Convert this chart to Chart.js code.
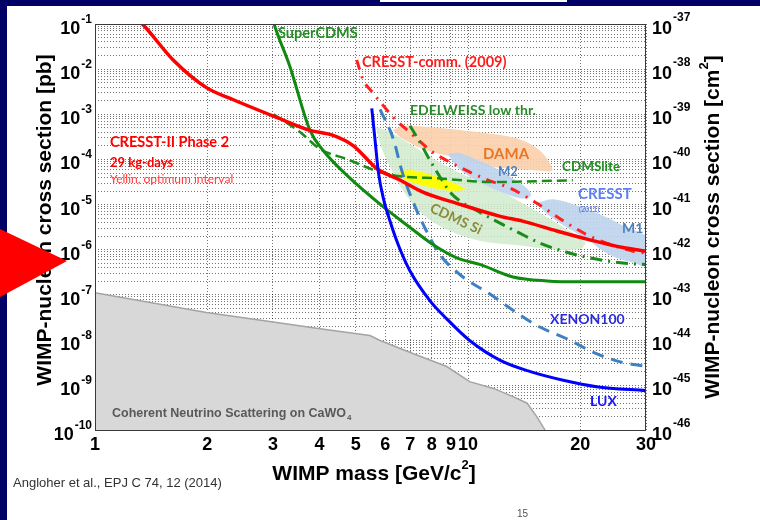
<!DOCTYPE html>
<html lang="en">
<head>
<meta charset="utf-8">
<title>WIMP-nucleon cross section limits</title>
<script src="https://cdn.jsdelivr.net/npm/chart.js@4.4.1/dist/chart.umd.min.js"></script>
<style>
  html, body { margin: 0; padding: 0; background: #ffffff; }
  #slide { position: relative; width: 760px; height: 520px; overflow: hidden; background: #ffffff; }
  #chart { position: absolute; left: 0; top: 0; }
  #frame { position: absolute; left: 0; top: 0; pointer-events: none; }
</style>
</head>
<body>
<div id="slide">
  <canvas id="chart" width="760" height="520"></canvas>
  <svg id="frame" width="760" height="520" viewBox="0 0 760 520">
    <rect x="0" y="0" width="760" height="6" fill="#000066"/>
    <rect x="380" y="0" width="187" height="2" fill="#ffffff"/>
    <rect x="0" y="0" width="7" height="520" fill="#000066"/>
    <polygon points="0,229 67,261 0,297" fill="#ff0000"/>
  </svg>
</div>
<script>
// WIMP mass axis ticks [GeV/c^2]
const massTicks = [1, 2, 3, 4, 5, 6, 7, 8, 9, 10, 20, 30];
// Decade exponents of the two cross-section axes
const pbExponents = [-10, -9, -8, -7, -6, -5, -4, -3, -2, -1];
const cm2Exponents = [-46, -45, -44, -43, -42, -41, -40, -39, -38, -37];

// CRESST-II Phase 2, 29 kg-days
const cresstIIMass  = [1.28, 1.34, 1.62, 1.99, 2.35, 3.07, 3.77, 4.35, 4.93, 5.46, 5.69, 6.57, 7.57, 9.33, 12.2, 14.0, 17.3, 21.2, 26.0, 30.0];
const cresstIISigma = [1.4e-1, 1.0e-1, 1.6e-2, 3.9e-3, 2.1e-3, 8.5e-4, 4.4e-4, 3.4e-4, 2.0e-4, 8.7e-5, 6.3e-5, 3.5e-5, 1.9e-5, 1.07e-5, 5.5e-6, 4.3e-6, 2.6e-6, 1.66e-6, 1.12e-6, 9.3e-7];

// SuperCDMS
const superCdmsMass  = [2.98, 3.02, 3.33, 3.77, 4.09, 4.73, 5.93, 6.85, 8.07, 9.33, 10.8, 13.2, 16.3, 20.0, 30.0];
const superCdmsSigma = [1.5e-1, 1.0e-1, 1.15e-2, 4.4e-4, 1.58e-4, 4.5e-5, 8.9e-6, 3.55e-6, 1.29e-6, 6.6e-7, 4.7e-7, 2.5e-7, 2.04e-7, 1.95e-7, 1.95e-7];

// CDMSlite
const cdmsLiteMass  = [3.01, 3.55, 4.01, 4.73, 5.81, 6.57, 8.41, 11.5, 14.0, 19.1];
const cdmsLiteSigma = [1.0e-3, 4.0e-4, 1.7e-4, 1.02e-4, 5.25e-5, 4.27e-5, 3.8e-5, 3.16e-5, 3.24e-5, 3.47e-5];

// EDELWEISS low threshold
const edelweissMass  = [6.99, 7.43, 7.91, 8.41, 8.95, 9.52, 10.3, 11.9, 13.8, 15.6, 18.0, 21.2, 26.0, 30.0];
const edelweissSigma = [5.6e-4, 2.4e-4, 9.5e-5, 4.1e-5, 1.9e-5, 1.2e-5, 8.3e-6, 4.3e-6, 2.3e-6, 1.4e-6, 9.3e-7, 6.6e-7, 5.1e-7, 4.7e-7];

// CRESST commissioning run (2009)
const cresstCommMass  = [5.03, 5.23, 5.52, 5.92, 6.37, 6.91, 7.43, 8.01, 8.77, 9.58, 11.3, 13.0, 15.3, 18.4, 21.2, 23.5, 27.7, 30.0];
const cresstCommSigma = [1.6e-2, 5.9e-3, 3.2e-3, 1.58e-3, 7.8e-4, 4.3e-4, 2.5e-4, 1.48e-4, 9.5e-5, 6.5e-5, 3.5e-5, 2.3e-5, 1.07e-5, 3.9e-6, 2.0e-6, 1.41e-6, 9.3e-7, 8.5e-7];

// XENON100
const xenonMass  = [5.81, 6.31, 6.64, 7.06, 7.67, 8.41, 9.52, 11.5, 13.2, 15.3, 18.4, 22.1, 25.6, 30.0];
const xenonSigma = [1.29e-3, 2.8e-4, 5.75e-5, 1.38e-5, 3.0e-6, 7.8e-7, 2.8e-7, 1.02e-7, 4.6e-8, 2.1e-8, 1.07e-8, 5.0e-9, 3.3e-9, 2.6e-9];

// LUX
const luxMass  = [5.52, 5.63, 5.75, 5.93, 6.18, 6.50, 6.99, 7.91, 8.77, 10.1, 12.2, 14.7, 18.0, 22.1, 30.0];
const luxSigma = [1.35e-3, 2.82e-4, 5.25e-5, 1.38e-5, 4.27e-6, 1.29e-6, 3.39e-7, 7.41e-8, 2.95e-8, 9.77e-9, 3.55e-9, 2.0e-9, 1.29e-9, 9.3e-10, 7.6e-10];

// Coherent neutrino scattering on CaWO4
const neutrinoMass  = [1.0, 1.99, 3.07, 4.01, 5.46, 5.81, 7.14, 8.77, 10.1, 11.7, 13.2, 14.4, 15.3, 16.1, 16.5];
const neutrinoSigma = [1.12e-7, 4.1e-8, 2.45e-8, 1.78e-8, 1.26e-8, 9.8e-9, 5.0e-9, 2.6e-9, 1.2e-9, 8.5e-10, 5.6e-10, 4.0e-10, 2.0e-10, 1.0e-10, 8.0e-11];

// DAMA allowed region
const damaMass  = [6.29, 6.78, 7.91, 9.52, 11.5, 13.4, 14.7, 15.8, 16.6, 16.8, 15.6, 13.4, 11.5, 10.1, 8.84, 7.57, 6.57, 6.29];
const damaSigma = [4.5e-4, 5.5e-4, 5.2e-4, 4.5e-4, 3.7e-4, 3.0e-4, 2.2e-4, 1.4e-4, 8.0e-5, 5.65e-5, 5.65e-5, 6.2e-5, 6.9e-5, 9.4e-5, 1.21e-4, 1.71e-4, 3.15e-4, 4.5e-4];

// CRESST (2011) M2 region
const m2Mass  = [8.84, 9.40, 10.4, 11.8, 13.1, 14.2, 14.75, 14.4, 13.2, 11.5, 10.1, 9.23, 8.84];
const m2Sigma = [1.33e-4, 1.40e-4, 1.04e-4, 6.57e-5, 3.96e-5, 2.51e-5, 1.68e-5, 1.37e-5, 1.52e-5, 2.39e-5, 4.17e-5, 7.64e-5, 1.33e-4];

// CRESST (2011) M1 region
const m1Mass  = [15.4, 17.1, 21.2, 25.6, 32.0, 32.0, 27.2, 24.0, 20.6, 17.65, 16.1, 15.4];
const m1Sigma = [1.12e-5, 1.30e-5, 7.48e-6, 3.68e-6, 1.38e-6, 4.0e-7, 5.4e-7, 7.7e-7, 1.81e-6, 3.87e-6, 6.76e-6, 1.12e-5];

// CDMS Si allowed region
const cdmsSiMass  = [5.67, 6.18, 6.99, 7.91, 9.23, 10.8, 13.0, 15.6, 18.2, 20.6, 20.0, 16.6, 13.4, 10.8, 8.95, 7.67, 6.78, 6.18, 5.81, 5.67];
const cdmsSiSigma = [5.21e-4, 4.05e-4, 2.21e-4, 1.15e-4, 5.65e-5, 3.24e-5, 1.52e-5, 6.43e-6, 3.01e-6, 1.48e-6, 1.04e-6, 1.04e-6, 1.27e-6, 1.56e-6, 2.59e-6, 5.52e-6, 1.77e-5, 6.9e-5, 2.21e-4, 5.21e-4];

// Yellow best-fit region inside CDMS Si
const yellowMass  = [6.57, 7.21, 8.41, 9.34, 9.82, 8.78, 7.76, 6.86, 6.61, 6.57];
const yellowSigma = [5.65e-5, 5.65e-5, 3.96e-5, 2.78e-5, 2.16e-5, 2.06e-5, 2.51e-5, 3.4e-5, 4.38e-5, 5.65e-5];

const AXIS_FONT = '"Liberation Sans", Arial, Helvetica, sans-serif';
const NOTE_FONT = 'Lato, "Open Sans", "Noto Sans", sans-serif';

const toPoints = (m, s) => m.map((x, i) => ({ x, y: s[i] }));

function curve(m, s, color, width, dash) {
  return {
    data: toPoints(m, s), showLine: true, fill: false,
    borderColor: color, borderWidth: width, borderDash: dash || [],
    borderCapStyle: 'butt', pointRadius: 0, cubicInterpolationMode: 'monotone'
  };
}
function region(m, s, color) {
  return {
    data: toPoints(m, s), showLine: true, fill: 'shape',
    backgroundColor: color, borderColor: 'rgba(0,0,0,0)', borderWidth: 0,
    pointRadius: 0, tension: 0.35
  };
}

// grid positions: 1..9 x 10^n on the pb axis
const pbGrid = [];
pbExponents.forEach((e, i) => {
  if (i === pbExponents.length - 1) { pbGrid.push(Math.pow(10, e)); return; }
  for (let k = 1; k <= 9; k++) pbGrid.push(Number((k * Math.pow(10, e)).toPrecision(2)));
});

const datasets = [
  curve(luxMass, luxSigma, '#0000ff', 3),
  curve(cresstIIMass, cresstIISigma, '#ff0000', 3.5),
  curve(superCdmsMass, superCdmsSigma, '#118a11', 3),
  curve(cdmsLiteMass, cdmsLiteSigma, '#1a8c1a', 2.5, [10, 5]),
  curve(edelweissMass, edelweissSigma, '#1a8c1a', 3, [12, 6, 2, 6]),
  curve(cresstCommMass, cresstCommSigma, '#ff1f1f', 3, [10, 7, 2, 7]),
  curve(xenonMass, xenonSigma, '#3d80c4', 3, [12, 8]),
  region(yellowMass, yellowSigma, '#ffff00'),
  region(m2Mass, m2Sigma, 'rgba(190,212,238,0.92)'),
  region(m1Mass, m1Sigma, 'rgba(190,212,238,0.92)'),
  region(damaMass, damaSigma, 'rgba(250,208,172,0.92)'),
  region(cdmsSiMass, cdmsSiSigma, 'rgba(208,234,204,0.85)'),
  {
    data: toPoints(neutrinoMass, neutrinoSigma), showLine: true, fill: 'start',
    backgroundColor: '#d8d8d8', borderColor: '#a4a4a4', borderWidth: 1.5,
    pointRadius: 0, tension: 0
  }
];

function powerLabel(ctx, exp, x, y, side) {
  const base = '10', sup = String(exp);
  ctx.font = 'bold 18px ' + AXIS_FONT;
  const bw = ctx.measureText(base).width;
  ctx.font = 'bold 12px ' + AXIS_FONT;
  const sw = ctx.measureText(sup).width;
  let bx, sx, supY;
  if (side === 'left') { sx = x - sw; bx = sx - 1 - bw; supY = y - 1; }
  else { bx = x; sx = x + bw + 1; supY = y - 3; }
  ctx.textAlign = 'left';
  ctx.textBaseline = 'alphabetic';
  ctx.fillStyle = '#000';
  ctx.font = 'bold 18px ' + AXIS_FONT;
  ctx.fillText(base, bx, y + 10);
  ctx.font = 'bold 12px ' + AXIS_FONT;
  ctx.fillText(sup, sx, supY);
}

function note(ctx, text, x, y, size, color, weight) {
  ctx.font = (weight || 'bold') + ' ' + size + 'px ' + NOTE_FONT;
  ctx.fillStyle = color;
  ctx.textAlign = 'left';
  ctx.textBaseline = 'middle';
  ctx.fillText(text, x, y);
}

// title with a raised "2" before the closing bracket
function titleWithSquare(ctx, head, tail, size) {
  ctx.font = 'bold ' + size + 'px ' + AXIS_FONT;
  const hw = ctx.measureText(head).width;
  const tw = ctx.measureText(tail).width;
  ctx.font = 'bold ' + Math.round(size * 0.62) + 'px ' + AXIS_FONT;
  const sw = ctx.measureText('2').width;
  const total = hw + sw + tw;
  let x = -total / 2;
  ctx.textAlign = 'left';
  ctx.textBaseline = 'alphabetic';
  ctx.font = 'bold ' + size + 'px ' + AXIS_FONT;
  ctx.fillText(head, x, 0);
  x += hw;
  ctx.font = 'bold ' + Math.round(size * 0.62) + 'px ' + AXIS_FONT;
  ctx.fillText('2', x, -size * 0.52);
  x += sw;
  ctx.font = 'bold ' + size + 'px ' + AXIS_FONT;
  ctx.fillText(tail, x, 0);
}

const decor = {
  id: 'decor',
  afterDraw(chart) {
    const { ctx, chartArea: a, scales } = chart;
    ctx.save();

    // axes box
    ctx.strokeStyle = '#3a3a3a';
    ctx.lineWidth = 1;
    ctx.setLineDash([]);
    ctx.strokeRect(Math.round(a.left) + 0.5, Math.round(a.top) + 0.5,
                   Math.round(a.right - a.left) - 1, Math.round(a.bottom - a.top));

    // decade labels on both cross-section axes
    scales.y.ticks.forEach(t => {
      const e = Math.log10(t.value);
      if (Math.abs(e - Math.round(e)) > 1e-6) return;
      powerLabel(ctx, Math.round(e), 92, scales.y.getPixelForValue(t.value), 'left');
    });
    scales.y2.ticks.forEach(t => {
      const e = Math.round(Math.log10(t.value));
      powerLabel(ctx, e, 652, scales.y2.getPixelForValue(t.value), 'right');
    });

    // axis titles
    ctx.fillStyle = '#000';
    ctx.save();
    ctx.translate(374, 480);
    titleWithSquare(ctx, 'WIMP mass [GeV/c', ']', 21);
    ctx.restore();

    ctx.save();
    ctx.translate(51, 220);
    ctx.rotate(-Math.PI / 2);
    ctx.font = 'bold 21px ' + AXIS_FONT;
    ctx.textAlign = 'center';
    ctx.textBaseline = 'alphabetic';
    ctx.fillText('WIMP-nucleon cross section [pb]', 0, 0);
    ctx.restore();

    ctx.save();
    ctx.translate(719, 227);
    ctx.rotate(-Math.PI / 2);
    titleWithSquare(ctx, 'WIMP-nucleon cross section [cm', ']', 21);
    ctx.restore();

    // curve and region labels
    note(ctx, 'SuperCDMS', 278, 33, 14.5, '#1f8f1f');
    note(ctx, 'CRESST-comm. (2009)', 362, 62, 14.5, '#ff1a1a');
    note(ctx, 'EDELWEISS low thr.', 410, 110, 14, '#2a8a2a');
    note(ctx, 'CRESST-II Phase 2', 110, 142, 14.5, '#ff0000');
    note(ctx, '29 kg-days', 110, 163, 13, '#ff0000');
    note(ctx, 'Yellin, optimum interval', 110, 179, 12, '#ff3b3b', 'normal');
    note(ctx, 'DAMA', 483, 154, 15, '#e8762a');
    note(ctx, 'M2', 498, 172, 13, '#4f81bd');
    note(ctx, 'CDMSlite', 562, 167, 13.5, '#1f8f1f');
    note(ctx, 'CRESST', 578, 194, 15, '#5d7ff0');
    note(ctx, '(2011)', 579, 210, 7, '#5d7ff0');
    note(ctx, 'M1', 622, 228, 14, '#4f81bd');
    note(ctx, 'XENON100', 550, 319, 14, '#2b2be0');
    note(ctx, 'LUX', 590, 401, 14, '#1515ff');

    ctx.save();
    ctx.translate(456, 219);
    ctx.rotate(25 * Math.PI / 180);
    ctx.font = 'bold 14px ' + NOTE_FONT;
    ctx.fillStyle = '#8c8c3c';
    ctx.textAlign = 'center';
    ctx.textBaseline = 'middle';
    ctx.fillText('CDMS Si', 0, 0);
    ctx.restore();

    // neutrino floor caption with subscript
    ctx.font = 'bold 12.5px ' + AXIS_FONT;
    ctx.fillStyle = '#595959';
    ctx.textAlign = 'left';
    ctx.textBaseline = 'alphabetic';
    const cap = 'Coherent Neutrino Scattering on CaWO';
    ctx.fillText(cap, 112, 417);
    const cw = ctx.measureText(cap).width;
    ctx.font = 'bold 8px ' + AXIS_FONT;
    ctx.fillText('4', 112 + cw + 1, 420);

    // reference and page number
    ctx.font = '13px ' + AXIS_FONT;
    ctx.fillStyle = '#333';
    ctx.fillText('Angloher et al., EPJ C 74, 12 (2014)', 13, 487);
    ctx.font = '10px ' + AXIS_FONT;
    ctx.fillStyle = '#555';
    ctx.fillText('15', 517, 517);

    ctx.restore();
  }
};

const gridStyle = { color: 'rgba(0,0,0,0.55)', lineWidth: 1, drawTicks: false };

new Chart(document.getElementById('chart'), {
  type: 'scatter',
  data: { datasets },
  options: {
    responsive: false,
    animation: false,
    devicePixelRatio: 1,
    layout: { padding: { left: 95, right: 114, top: 24, bottom: 60 } },
    plugins: { legend: { display: false }, tooltip: { enabled: false } },
    elements: { point: { radius: 0 } },
    scales: {
      x: {
        type: 'logarithmic', min: 1, max: 30,
        afterBuildTicks: s => { s.ticks = massTicks.map(v => ({ value: v })); },
        grid: gridStyle,
        border: { display: false, dash: [1, 2] },
        ticks: {
          autoSkip: false, maxRotation: 0, minRotation: 0, padding: 4, color: '#000',
          font: { family: AXIS_FONT, size: 18, weight: 'bold' },
          callback: v => String(v)
        }
      },
      y: {
        type: 'logarithmic', position: 'left', min: 1e-10, max: 1e-1,
        afterBuildTicks: s => { s.ticks = pbGrid.map(v => ({ value: v })); },
        grid: gridStyle,
        border: { display: false, dash: [1, 2] },
        ticks: { display: false }
      },
      y2: {
        type: 'logarithmic', position: 'right', min: 1e-46, max: 1e-37,
        afterBuildTicks: s => { s.ticks = cm2Exponents.map(e => ({ value: Math.pow(10, e) })); },
        grid: { display: false, drawTicks: false },
        border: { display: false },
        ticks: { display: false }
      }
    }
  },
  plugins: [decor]
});
</script>
</body>
</html>
